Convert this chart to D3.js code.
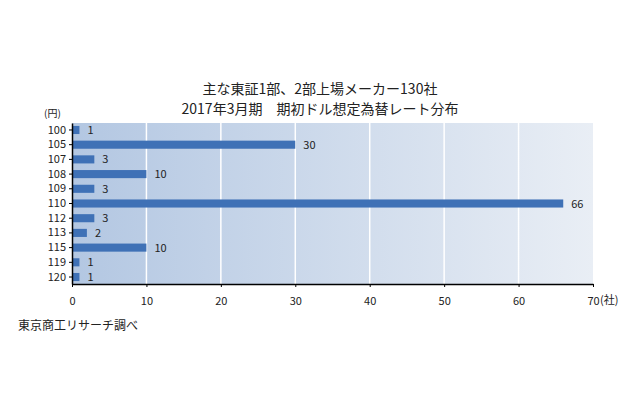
<!DOCTYPE html><html><head><meta charset="utf-8"><script src="https://cdn.jsdelivr.net/npm/d3@7"></script>
<style>body{margin:0;background:#fff}text{font-family:"Noto Sans CJK JP",sans-serif}</style></head><body><svg id="c" width="640" height="400"></svg>
<script>
const categories=["100","105","107","108","109","110","112","113","115","119","120"];
const values=[1,30,3,10,3,66,3,2,10,1,1];
const xTicks=[0,10,20,30,40,50,60,70];
const svg=d3.select("#c");
const m={l:72,r:593,t:123,b:284};
const x=d3.scaleLinear().domain([0,70]).range([m.l,m.r]);
const y=d3.scaleBand().domain(categories).range([m.t,m.b]).paddingInner(0.45).paddingOuter(0.2);
const defs=svg.append("defs");
const g=defs.append("linearGradient").attr("id","bg");
g.append("stop").attr("offset","0").attr("stop-color","#b3c7e2");
g.append("stop").attr("offset","1").attr("stop-color","#e9eef5");
svg.append("rect").attr("x",m.l).attr("y",m.t).attr("width",m.r-m.l).attr("height",m.b-m.t).attr("fill","url(#bg)");
svg.selectAll(".gl").data(xTicks.slice(1,-1)).join("line").attr("x1",d=>x(d)).attr("x2",d=>x(d)).attr("y1",m.t).attr("y2",m.b).attr("stroke","#fff").attr("stroke-width",1.5);
svg.selectAll(".bar").data(values).join("rect").attr("x",x(0)).attr("y",(d,i)=>y(categories[i])).attr("width",d=>x(d)-x(0)).attr("height",y.bandwidth()).attr("fill","#3f71b6");
svg.selectAll(".vl").data(values).join("text").attr("x",d=>x(d)+8).attr("y",(d,i)=>y(categories[i])+y.bandwidth()/2+4).attr("font-size",11).attr("fill","#222").text(d=>d);
const ya=svg.append("g").attr("transform",`translate(${m.l},0)`).call(d3.axisLeft(y).tickSize(3).tickSizeOuter(0));
ya.select(".domain").attr("stroke","#000").attr("stroke-width",1.5);
ya.selectAll("text").attr("font-size",11).attr("fill","#222").attr("x",-6);
const xa=svg.append("g").attr("transform",`translate(0,${m.b})`).call(d3.axisBottom(x).tickValues(xTicks).tickSize(3).tickSizeOuter(0));
xa.select(".domain").attr("stroke","#000").attr("stroke-width",1.5);
xa.selectAll("text").attr("font-size",11).attr("fill","#222").attr("dy","1.4em");
svg.append("text").attr("x",600).attr("y",304).attr("font-size",11).attr("fill","#222").text("(社)");
svg.append("text").attr("x",44).attr("y",117).attr("font-size",10).attr("fill","#222").text("(円)");
svg.append("text").attr("x",320).attr("y",94).attr("text-anchor","middle").attr("font-size",14).attr("fill","#222").text("主な東証1部、2部上場メーカー130社");
svg.append("text").attr("x",320).attr("y",114).attr("text-anchor","middle").attr("font-size",14).attr("fill","#222").text("2017年3月期　期初ドル想定為替レート分布");
svg.append("text").attr("x",18).attr("y",330).attr("font-size",12).attr("fill","#222").text("東京商工リサーチ調べ");
</script></body></html>
